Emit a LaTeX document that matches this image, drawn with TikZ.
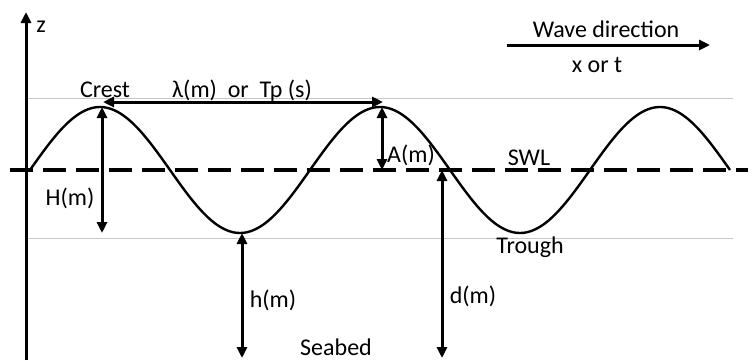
\documentclass[tikz,border=0pt]{standalone}
\usepackage{fontspec}
\setmainfont{Carlito}
\usetikzlibrary{arrows.meta,positioning}

\begin{document}
\begin{tikzpicture}[x=1pt,y=-1pt,>={Triangle[length=11pt,width=10pt]},
  lbl/.style={font=\fontsize{24}{28}\selectfont,inner sep=0pt,anchor=base},
  dim/.style={line width=3pt,<->},
  guide/.style={line width=0.8pt,black!22}]
  \useasboundingbox (0,0) rectangle (753,360);
  % reference levels
  \coordinate (CL) at (28,98);   \coordinate (CR) at (733,98);
  \coordinate (TL) at (28,238);  \coordinate (TR) at (733,238);
  \draw[guide] (CL)--(CR);
  \draw[guide] (TL)--(TR);
  % still water level
  \coordinate (SL) at (10,170);  \coordinate (SR) at (748,170);
  \draw[line width=3.8pt,dash pattern=on 23pt off 10pt] (SL)--(SR);
  % z axis
  \coordinate (O) at (26,360);   \coordinate (Z) at (26,12);
  \draw[->,line width=3pt] (O)--(Z);
  \node[lbl] (zl) at (41,32) {z};
  % wave profile
  \draw[line width=2.4pt] plot[domain=30:730,samples=241,smooth]
    (\x,{170-63*sin((\x-30)*9/7)});
  % crests, troughs and bed
  \coordinate (C1) at (102,107); \coordinate (C2) at (382,107);
  \coordinate (T1) at (242,233); \coordinate (H1) at (102,233);
  \coordinate (A1) at (382,170); \coordinate (D1) at (442,170);
  \coordinate (B1) at (242,358); \coordinate (B2) at (442,358);
  \coordinate (L1) at (103,102); \coordinate (L2) at (383,102);
  \draw[dim] (L1)--(L2);
  \draw[dim] (C1)--(H1);
  \draw[dim] (C2)--(A1);
  \draw[dim] (T1)--(B1);
  \draw[dim] (D1)--(B2);
  % labels
  \node[lbl] (crest) at (105,97) {Crest};
  \node[lbl] (lam) at (242,97) {λ(m)\ \ or\ \ Tp (s)};
  \node[lbl] (Hm) at (70,205) {H(m)};
  \node[lbl] (Am) at (411,162) {A(m)};
  \node[lbl] (swl) at (529,165) {SWL};
  \node[lbl] (trough) at (530,253) {Trough};
  \node[lbl] (hm) at (273,307) {h(m)};
  \node[lbl] (dm) at (473,303) {d(m)};
  \node[lbl] (bed) at (336,355) {Seabed};
  % wave direction
  \node[lbl] (dir) at (606,37) {Wave direction};
  \node[lbl] (xt) at (597,72) {x or t};
  \coordinate (W1) at (507,45);  \coordinate (W2) at (710,45);
  \draw[->,line width=3pt] (W1)--(W2);
\end{tikzpicture}
\end{document}
